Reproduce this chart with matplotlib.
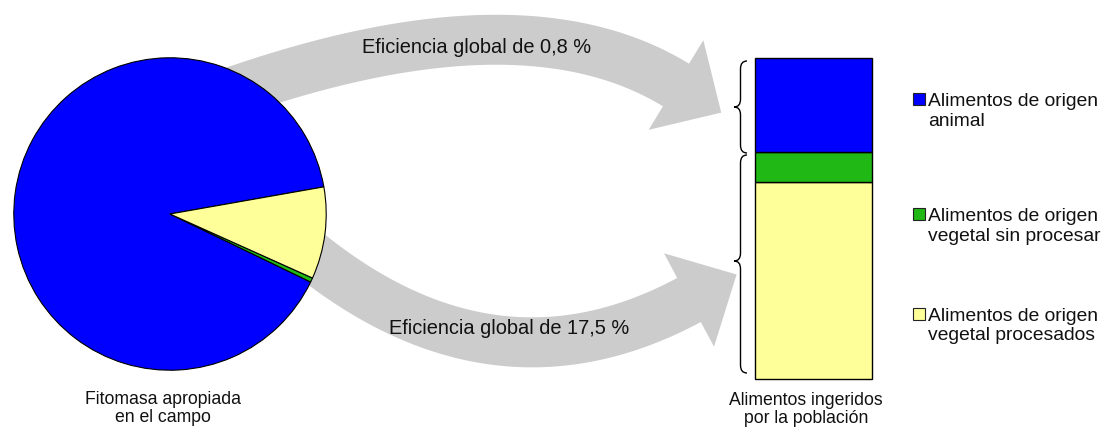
import numpy as np
import matplotlib
matplotlib.use("Agg")
import matplotlib.pyplot as plt
from matplotlib.patches import Polygon, Rectangle, PathPatch
from matplotlib.path import Path

plt.rcParams['font.family'] = ['Liberation Sans', 'DejaVu Sans']

# ---- data ----
categories = ["Alimentos de origen\nanimal",
              "Alimentos de origen\nvegetal sin procesar",
              "Alimentos de origen\nvegetal procesados"]
colors = ["#0000FF", "#1FB814", "#FFFF99"]
pie_values = [90.05, 0.45, 9.5]        # Fitomasa apropiada en el campo (%)
bar_values = [29.3, 9.4, 61.3]         # Alimentos ingeridos por la población (%)
arrow_labels = ["Eficiencia global de 0,8 %", "Eficiencia global de 17,5 %"]
pie_label = "Fitomasa apropiada\nen el campo"
bar_label = "Alimentos ingeridos\npor la población"

W, H = 1104, 443
fig = plt.figure(figsize=(W / 100, H / 100), dpi=100)
fig.patch.set_facecolor("white")

# overlay axes in pixel coordinates
ax0 = fig.add_axes([0, 0, 1, 1])
ax0.set_xlim(0, W)
ax0.set_ylim(H, 0)
ax0.axis("off")

GREY = "#cccccc"


def bez(P0, P1, P2, t):
    t = np.asarray(t)[:, None]
    P0, P1, P2 = map(np.asarray, (P0, P1, P2))
    return (1 - t) ** 2 * P0 + 2 * t * (1 - t) * P1 + t ** 2 * P2


def curved_arrow(ax, P0, P1, P2, width, head_w, head_l, t0=-0.1):
    ts = np.linspace(t0, 1, 120)
    pts = bez(P0, P1, P2, ts)
    P0, P1, P2 = map(np.asarray, (P0, P1, P2))
    tang = 2 * (1 - ts)[:, None] * (P1 - P0) + 2 * ts[:, None] * (P2 - P1)
    tang /= np.linalg.norm(tang, axis=1)[:, None]
    nrm = np.column_stack([-tang[:, 1], tang[:, 0]])
    left = pts + nrm * width / 2
    right = pts - nrm * width / 2
    d = tang[-1]
    n = nrm[-1]
    B = pts[-1]
    head = [B + n * head_w / 2, B + d * head_l, B - n * head_w / 2]
    poly = np.vstack([left, head, right[::-1]])
    ax.add_patch(Polygon(poly, closed=True, facecolor=GREY, edgecolor="none", zorder=1))


curved_arrow(ax0, (250, 86), (527, -6), (676, 85), 50, 105, 53)
curved_arrow(ax0, (250, 200), (465, 420), (689, 300), 50, 106, 54)

ax0.text(477, 53, arrow_labels[0], fontsize=14.4, ha="center", va="baseline", color="#111111", zorder=3)
ax0.text(509, 334, arrow_labels[1], fontsize=14.4, ha="center", va="baseline", color="#111111", zorder=3)


def brace(ax, x_end, x_spine, x_tip, y_top, y_tip, y_bot):
    r = x_end - x_spine
    verts = [(x_end, y_top), (x_spine, y_top), (x_spine, y_top + r * 1.2),
             (x_spine, y_tip - r * 1.2),
             (x_spine, y_tip), (x_tip, y_tip),
             (x_spine, y_tip), (x_spine, y_tip + r * 1.2),
             (x_spine, y_bot - r * 1.2),
             (x_spine, y_bot), (x_end, y_bot)]
    codes = [Path.MOVETO, Path.CURVE3, Path.CURVE3, Path.LINETO,
             Path.CURVE3, Path.CURVE3, Path.CURVE3, Path.CURVE3,
             Path.LINETO, Path.CURVE3, Path.CURVE3]
    ax.add_patch(PathPatch(Path(verts, codes), facecolor="none", edgecolor="black", lw=1.0, zorder=3))


brace(ax0, 747, 740.5, 734, 61, 107, 153)
brace(ax0, 747, 740.5, 734, 155, 261, 373)

# bottom labels
ax0.text(163, 421.5, pie_label, fontsize=12.7, ha="center", va="baseline", linespacing=1.05, color="#111111")
ax0.text(806, 423, bar_label, fontsize=12.7, ha="center", va="baseline", linespacing=1.05, color="#111111")

# legend (manual)
leg_base = [106, 221, 321]
for lab, col, yb in zip(categories, colors, leg_base):
    ax0.add_patch(Rectangle((913, yb - 13), 11.5, 12, facecolor=col, edgecolor="#222222", lw=0.8, zorder=3))
    l1, l2 = lab.split("\n")
    ax0.text(928, yb, l1, fontsize=13.9, ha="left", va="baseline", color="#111111")
    ax0.text(928, yb + 19.5, l2, fontsize=13.9, ha="left", va="baseline", color="#111111")

# pie
cx, cy, R = 170, 214, 157
axp = fig.add_axes([(cx - R) / W, (H - cy - R) / H, 2 * R / W, 2 * R / H])
axp.patch.set_alpha(0)
axp.pie(pie_values, colors=colors, startangle=10, counterclock=True,
        wedgeprops=dict(edgecolor="black", linewidth=0.8))
axp.set_xlim(-1.005, 1.005)
axp.set_ylim(-1.005, 1.005)
axp.axis("off")

# stacked bar
bx0, bx1, by0, by1 = 755, 872, 58, 379
axb = fig.add_axes([bx0 / W, (H - by1) / H, (bx1 - bx0) / W, (by1 - by0) / H])
axb.patch.set_alpha(0)
order = [2, 1, 0]  # bottom to top: procesados, sin procesar, animal
bottom = 0
for i in order:
    axb.bar(0, bar_values[i], bottom=bottom, width=1, color=colors[i],
            edgecolor="black", linewidth=1.0, clip_on=False)
    bottom += bar_values[i]
axb.set_xlim(-0.5, 0.5)
axb.set_ylim(0, sum(bar_values))
axb.axis("off")

fig.savefig("out.png", dpi=100)
